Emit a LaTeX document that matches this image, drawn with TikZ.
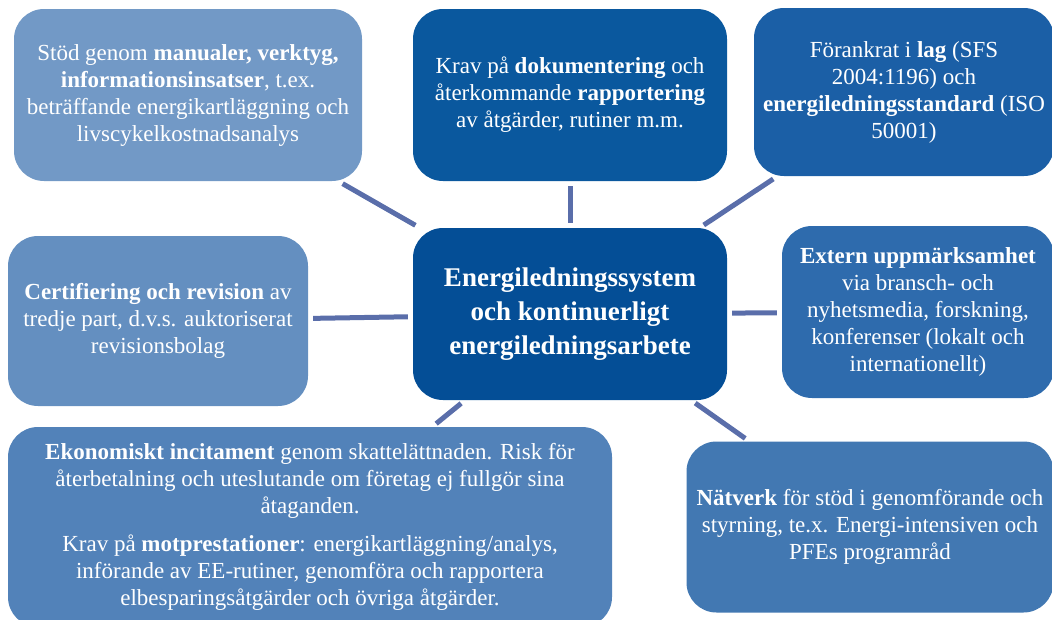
\documentclass[tikz,border=0pt]{standalone}
\usepackage{fontspec}
\setmainfont{Liberation Serif}

\definecolor{coreblue}{HTML}{044E96}
\definecolor{linkblue}{HTML}{5A6EAA}
\definecolor{stodblue}{HTML}{7299C6}
\definecolor{kravblue}{HTML}{0A589E}
\definecolor{lagblue}{HTML}{1B5FA6}
\definecolor{certblue}{HTML}{648FC0}
\definecolor{extblue}{HTML}{2E6BAD}
\definecolor{ekonblue}{HTML}{5282B9}
\definecolor{natblue}{HTML}{4278B2}

\begin{document}
\begin{tikzpicture}[x=1pt, y=-1pt,
  box/.style={rounded corners=30pt, text=white, align=center, inner sep=0pt,
    font=\fontsize{23}{27}\selectfont},
  link/.style={draw=linkblue, line width=5pt, shorten <=5pt, shorten >=5pt}]
  \useasboundingbox (0,0) rectangle (1052,619);

  % centre box
  \node[box, fill=coreblue, minimum width=314pt, minimum height=172pt,
    font=\fontsize{27}{34}\selectfont\bfseries] (core) at (570,314)
    {Energiledningssystem\\och kontinuerligt\\energiledningsarbete};

  % surrounding boxes
  \node[box, fill=stodblue, minimum width=348pt, minimum height=172pt] (stod) at (188,95)
    {Stöd genom \textbf{manualer, verktyg,}\\\textbf{informationsinsatser}, t.ex.\\beträffande energikartläggning och\\livscykelkostnadsanalys};
  \node[box, fill=kravblue, minimum width=314pt, minimum height=172pt] (krav) at (570,95)
    {Krav på \textbf{dokumentering} och\\återkommande \textbf{rapportering}\\av åtgärder, rutiner m.m.};
  \node[box, fill=lagblue, minimum width=300pt, minimum height=168pt] (lag) at (904,92)
    {Förankrat i \textbf{lag} (SFS\\2004:1196) och\\\textbf{energiledningsstandard} (ISO\\50001)};
  \node[box, fill=certblue, minimum width=300pt, minimum height=170pt] (cert) at (158,321)
    {\textbf{Certifiering och revision} av\\tredje part, d.v.s. auktoriserat\\revisionsbolag};
  \node[box, fill=extblue, minimum width=272pt, minimum height=172pt] (extern) at (918,312)
    {\textbf{Extern uppmärksamhet}\\via bransch- och\\nyhetsmedia, forskning,\\konferenser (lokalt och\\internationellt)};
  \node[box, fill=ekonblue, minimum width=604pt, minimum height=200pt] (ekon) at (310,527)
    {\textbf{Ekonomiskt incitament} genom skattelättnaden. Risk för\\återbetalning och uteslutande om företag ej fullgör sina\\åtaganden.\\[11pt]
     Krav på \textbf{motprestationer}: energikartläggning/analys,\\införande av EE-rutiner, genomföra och rapportera\\elbesparingsåtgärder och övriga åtgärder.};
  \node[box, fill=natblue, minimum width=367pt, minimum height=171pt] (natverk) at (870,527)
    {\textbf{Nätverk} för stöd i genomförande och\\styrning, te.x. Energi-intensiven och\\PFEs programråd};

  \path[link]
    (stod) edge (core)
    (krav) edge (core)
    (lag) edge (core)
    (cert) edge (core)
    (extern) edge (core)
    (ekon) edge (core)
    (natverk) edge (core);
\end{tikzpicture}
\end{document}
